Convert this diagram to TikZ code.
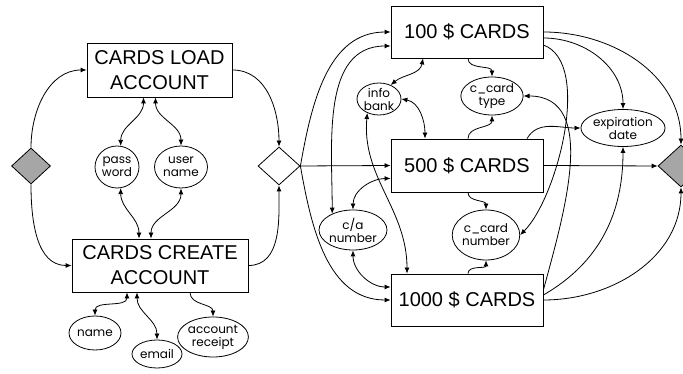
\documentclass[tikz,border=0pt]{standalone}
\usepackage{fontspec}
\setmainfont{Liberation Sans}
\newfontfamily\ovalfont{Poppins}
\usetikzlibrary{positioning,shapes.geometric,arrows.meta}

\begin{document}
\begin{tikzpicture}[x=1pt,y=1pt,line width=0.8pt,
    cardbox/.style={draw,rectangle,inner sep=0pt,align=center,font=\fontsize{20}{25}\selectfont},
    attr/.style={draw,ellipse,inner sep=0pt,align=center,font=\ovalfont\fontsize{12}{13}\selectfont},
    gate/.style={draw,diamond,inner sep=0pt},
    one/.style={-{Latex[length=6pt,width=5pt]}},
    two/.style={{Latex[length=6pt,width=5pt]}-{Latex[length=6pt,width=5pt]}}]

    % Page
    \clip (0,0) rectangle (683,374);
    \fill[white] (0,0) rectangle (683,374);

    % Gates
    \node[gate,fill=black!35,minimum width=39pt,minimum height=36pt] (ldia) at (31,208) {};
    \node[gate,fill=white,minimum width=42pt,minimum height=38pt] (wdia) at (279,208) {};
    \node[gate,fill=black!35,minimum width=46pt,minimum height=42pt] (rdia) at (681,208) {};

    % Account boxes
    \node[cardbox,minimum width=145pt,minimum height=54pt] (load) at (159.5,304) {CARDS LOAD\\ACCOUNT};
    \node[cardbox,minimum width=176pt,minimum height=53pt] (create) at (160,108.5) {CARDS CREATE\\ACCOUNT};

    % Card boxes
    \node[cardbox,minimum width=152pt,minimum height=52pt] (c100) at (467,342) {100 \$ CARDS};
    \node[cardbox,minimum width=152pt,minimum height=53pt] (c500) at (467,208.5) {500 \$ CARDS};
    \node[cardbox,minimum width=152pt,minimum height=52pt] (c1000) at (467,74) {1000 \$ CARDS};

    % Attributes
    \node[attr,minimum width=44pt,minimum height=42pt] (pw) at (117,207) {pass\\word};
    \node[attr,minimum width=53pt,minimum height=42pt] (un) at (181,207) {user\\name};
    \node[attr,minimum width=52pt,minimum height=34pt] (name) at (95,41) {name};
    \node[attr,minimum width=50pt,minimum height=28pt] (email) at (157,20) {email};
    \node[attr,minimum width=70pt,minimum height=40pt] (receipt) at (213,37) {account\\receipt};
    \node[attr,minimum width=44pt,minimum height=32pt] (info) at (379,275) {info\\bank};
    \node[attr,minimum width=54pt,minimum height=38pt] (ctype) at (492,278) {c\_card\\type};
    \node[attr,minimum width=80pt,minimum height=37pt] (exp) at (623,246) {expiration\\date};
    \node[attr,minimum width=68pt,minimum height=40pt] (ca) at (353,144) {c/a\\number};
    \node[attr,minimum width=58pt,minimum height=50pt] (cnum) at (486,139) {c\_card\\number};

    % Left loop
    \draw[one] (ldia.north) to[out=90,in=180] (load.west);
    \draw[one] (ldia.south) to[out=-90,in=180] (create.west);
    \draw[one] (load.east) to[out=0,in=90] (wdia.north);
    \draw[one] (create.east) to[out=0,in=-90] (wdia.south);

    % Account attributes
    \draw[two] ([xshift=-16pt]load.south) to[out=-90,in=90] (pw.80);
    \draw[two] ([xshift=-4pt]load.south) to[out=-90,in=90] (un.north);
    \draw[two] (pw.-80) to[out=-90,in=90] ([xshift=-21pt]create.north);
    \draw[two] (un.south) to[out=-90,in=90] ([xshift=-9pt]create.north);
    \draw[two] ([xshift=-33pt]create.south) to[out=-90,in=90] (name.north);
    \draw[two] ([xshift=-23pt]create.south) to[out=-90,in=90] (email.north);
    \draw[one] ([xshift=30pt]create.south) to[out=-90,in=90] (receipt.north);

    % Fan out to the cards
    \draw[one] (wdia.east) -- (c500.west);
    \draw[one] (wdia.east) to[out=80,in=180] (c100.west);
    \draw[one] (wdia.east) to[out=-80,in=180] (c1000.west);

    % c/a number
    \draw[two] (ca.142) to[out=90,in=180] ([yshift=-14pt]c100.west);
    \draw[two] (ca.north) to[out=90,in=180] ([yshift=-13pt]c500.west);
    \draw[two] (ca.south) to[out=-90,in=180] ([yshift=13pt]c1000.west);

    % info bank
    \draw[two] ([xshift=-44pt]c100.south) to[out=-100,in=40] (info.50);
    \draw[two] (info.east) to[out=-10,in=90] ([xshift=-42pt]c500.north);
    \draw[two] (info.-130) to[out=-95,in=90] ([xshift=-60pt]c1000.north);

    % c_card type and number
    \draw[one] ([xshift=1pt]c100.south) to[out=-90,in=90] (ctype.north);
    \draw[one] ([xshift=1pt]c500.north) to[out=90,in=-90] (ctype.south);
    \draw[one] ([yshift=10pt]c1000.east) to[out=75,in=0] (ctype.east);
    \draw[one] ([xshift=1pt]c500.south) to[out=-90,in=90] (cnum.north);
    \draw[one] ([xshift=1pt]c1000.north) to[out=90,in=-90] (cnum.south);
    \draw[one] ([yshift=-13pt]c100.east) to[out=-20,in=45,looseness=0.7] (cnum.east);

    % expiration date and exit
    \draw[one] ([yshift=-6pt]c100.east) to[out=0,in=90] (exp.north);
    \draw[one] ([xshift=60pt]c500.north) to[out=60,in=180] (exp.west);
    \draw[one] ([yshift=5pt]c1000.east) to[out=30,in=-90] (exp.south);
    \draw[one] (c100.east) to[out=0,in=90] (rdia.north);
    \draw[one] (c500.east) -- (rdia.west);
    \draw[one] (c1000.east) to[out=0,in=-90] (rdia.south);

\end{tikzpicture}
\end{document}
